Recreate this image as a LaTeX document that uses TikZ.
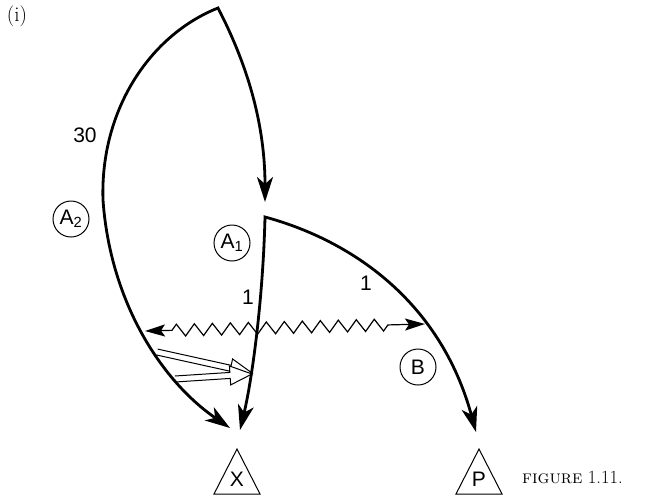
\documentclass[tikz,border=0pt]{standalone}
\usepackage{fontspec}
\newfontfamily\lab{Liberation Sans}
\usetikzlibrary{arrows.meta,decorations.pathmorphing,calc}
\newcommand\hollowarrow[2]{%
  \coordinate (oaH) at ($(#2)!22pt!(#1)$);
  \filldraw[hollow] ($(#1)!3pt!90:(#2)$) -- ($(oaH)!3pt!90:(#2)$) -- ($(oaH)!9.5pt!90:(#2)$) -- (#2)
    -- ($(oaH)!9.5pt!-90:(#2)$) -- ($(oaH)!3pt!-90:(#2)$) -- ($(#1)!3pt!-90:(#2)$);
}
\begin{document}
\begin{tikzpicture}[x=1pt,y=-1pt,
  bigtip/.tip={Stealth[length=25pt,width=16pt,inset=7pt]},
  smalltip/.tip={Stealth[length=20pt,width=12pt,inset=4pt]},
  thickline/.style={line width=2.8pt, line join=miter},
  lbl/.style={font=\lab\fontsize{21}{25}\selectfont, inner sep=0pt},
  circ/.style={draw, circle, line width=1pt, minimum size=36pt, inner sep=0pt, font=\lab\fontsize{21}{25}\selectfont},
  tri/.style={draw, line width=1pt, line join=miter},
  wavy/.style={line width=1.2pt, decorate, decoration={zigzag, segment length=18pt, amplitude=6pt, pre length=27pt, post length=32pt}},
  hollow/.style={fill=white, line width=1pt, line join=miter}
]
\useasboundingbox (0,0) rectangle (654,499);

% labels
\node[font=\fontsize{21}{25}\selectfont, inner sep=0pt] (lbli) at (17,16) {(i)};
\node[font=\fontsize{18.5}{22}\selectfont, inner sep=0pt, anchor=base west] (cap) at (522,483) {\textsc{figure} 1.11.};
\node[lbl] (l30) at (85,135) {30};
\node[lbl] (l1a) at (248,297) {1};
\node[lbl] (l1b) at (366,283) {1};
\node[circ] (A2) at (71,219) {A\textsubscript{2}};
\node[circ] (A1) at (232,243) {A\textsubscript{1}};
\node[circ] (B) at (418,367) {B};

% triangles
\node[lbl] (X) at (237,479) {X};
\coordinate (Xt) at (237,449); \coordinate (Xl) at (214,494); \coordinate (Xr) at (260,494);
\draw[tri] (Xl) -- (Xt) -- (Xr) -- cycle;
\node[lbl] (P) at (479,479) {P};
\coordinate (Pt) at (479,449); \coordinate (Pl) at (456,494); \coordinate (Pr) at (502,494);
\draw[tri] (Pl) -- (Pt) -- (Pr) -- cycle;

% key points
\coordinate (top) at (218,8);
\coordinate (Lmid) at (103,200);
\coordinate (Lend) at (230,428);
\coordinate (Rend) at (265,202);
\coordinate (Astart) at (265,217);
\coordinate (Aend) at (240,430);
\coordinate (Bend) at (476,432);
\coordinate (zl) at (145,331);
\coordinate (zr) at (425,324);
\coordinate (h1s) at (157,352);
\coordinate (h1e) at (252,373);
\coordinate (h2s) at (175,379);
\coordinate (h2e) at (252,374);

% hollow arrows
\hollowarrow{h1s}{h1e}
\hollowarrow{h2s}{h2e}

% thick curves
\draw[thickline, {bigtip}-{bigtip}] (Lend) .. controls (160,380) and (110,300) .. (Lmid)
   .. controls (100,110) and (150,35) .. (top)
   .. controls (245,60) and (265,120) .. (Rend);
\draw[thickline, {bigtip}-{bigtip}] (Aend) .. controls (252,380) and (263,300) .. (Astart)
   .. controls (350,240) and (440,300) .. (Bend);

% zigzag
\draw[wavy, {smalltip}-{smalltip}] (zl) -- (zr);
\end{tikzpicture}
\end{document}
